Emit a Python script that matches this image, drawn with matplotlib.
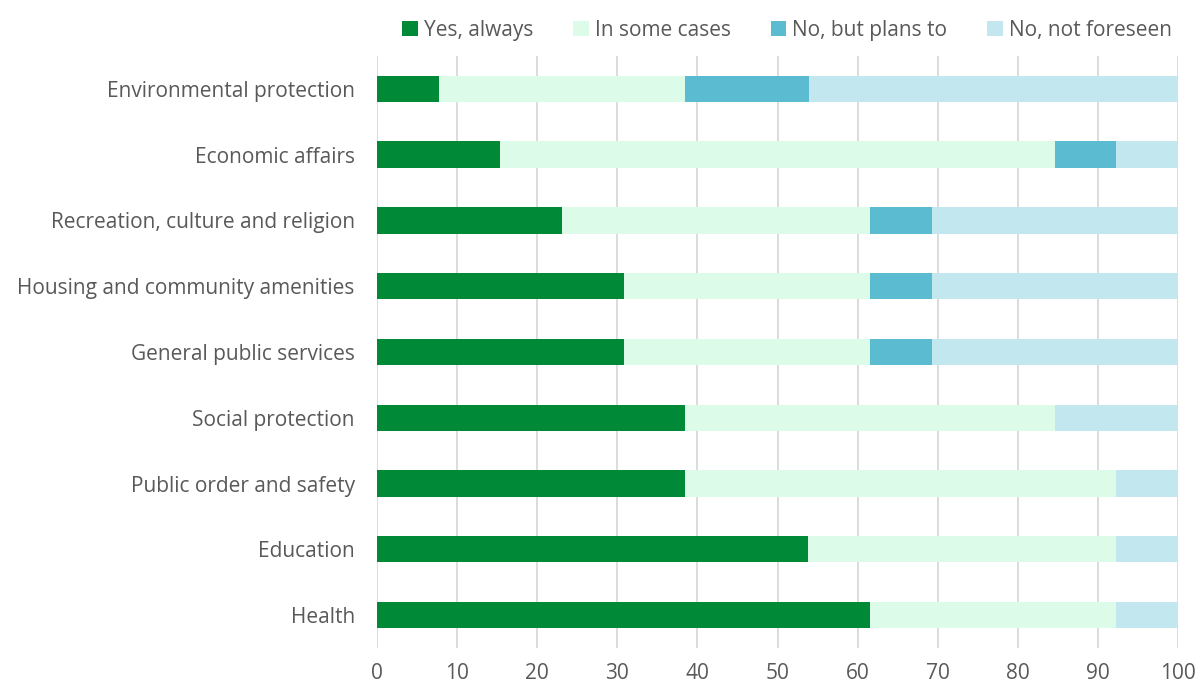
import matplotlib
matplotlib.use("Agg")
import matplotlib.pyplot as plt
import numpy as np

categories = ["Environmental protection", "Economic affairs", "Recreation, culture and religion",
              "Housing and community amenities", "General public services", "Social protection",
              "Public order and safety", "Education", "Health"]
series_names = ["Yes, always", "In some cases", "No, but plans to", "No, not foreseen"]
yes_always = [7.7, 15.4, 23.1, 30.8, 30.8, 38.5, 38.5, 53.8, 61.5]
some_cases = [30.8, 69.2, 38.5, 30.8, 30.8, 46.2, 53.8, 38.5, 30.8]
plans_to = [15.4, 7.7, 7.7, 7.7, 7.7, 0.0, 0.0, 0.0, 0.0]
not_foreseen = [46.2, 7.7, 30.8, 30.8, 30.8, 15.4, 7.7, 7.7, 7.7]
colors = ["#008A37", "#DCFCE9", "#5BBCD1", "#C3E7EF"]
xticks = [0, 10, 20, 30, 40, 50, 60, 70, 80, 90, 100]

plt.rcParams['font.family'] = ['Open Sans', 'DejaVu Sans']
text_color = "#595959"

fig = plt.figure(figsize=(11.98, 6.87), dpi=100)
ax = fig.add_axes([0.3147, 0.0568, 0.6686, 0.8617])

data = [yes_always, some_cases, plans_to, not_foreseen]
y = np.arange(len(categories))[::-1]
left = np.zeros(len(categories))
for vals, name, c in zip(data, series_names, colors):
    vals = np.array(vals)
    ax.barh(y, vals, left=left, height=0.4, color=c, label=name, zorder=3)
    left += vals

ax.set_xlim(0, 100)
ax.set_ylim(-0.5, len(categories) - 0.5)
ax.set_yticks(y)
ax.set_yticklabels(categories, fontsize=15, color=text_color)
ax.set_xticks(xticks)
ax.set_xticklabels([str(t) for t in xticks], fontsize=15, color=text_color)
ax.tick_params(axis='both', length=0)
ax.tick_params(axis='y', pad=16)
ax.tick_params(axis='x', pad=11)
ax.grid(axis='x', color="#D9D9D9", linewidth=1.3, zorder=0)
for s in ax.spines.values():
    s.set_visible(False)

leg = fig.legend(*ax.get_legend_handles_labels(), loc='upper center', bbox_to_anchor=(0.657, 0.998),
                 ncol=4, frameon=False, fontsize=15, handlelength=0.75, handleheight=0.75,
                 handletextpad=0.3, columnspacing=1.9, labelcolor=text_color)

fig.savefig("out.png", dpi=100)
